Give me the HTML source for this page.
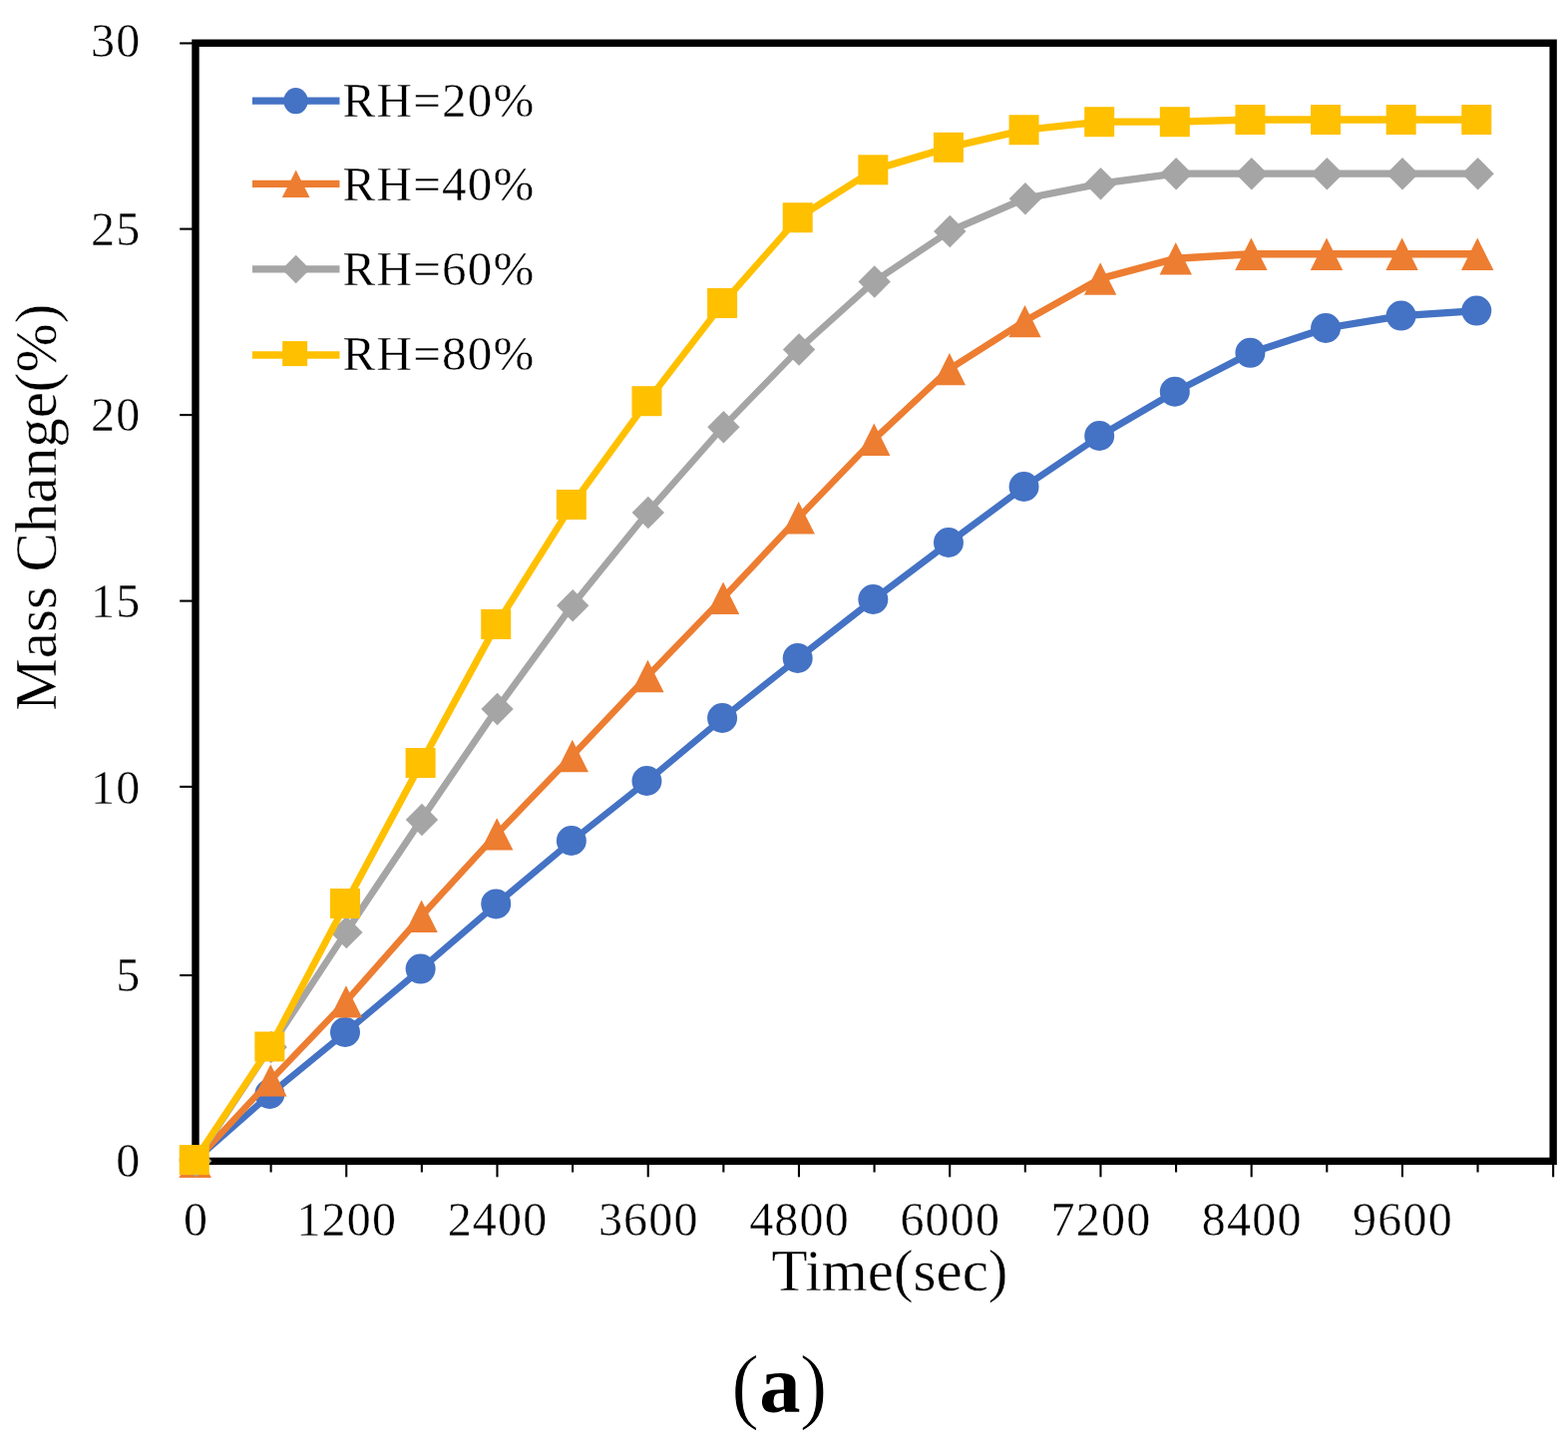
<!DOCTYPE html>
<html lang="en"><head><meta charset="utf-8"><title>Mass Change vs Time</title>
<style>
html,body{margin:0;padding:0;background:#fff;}
body{width:1572px;height:1451px;overflow:hidden;}
svg{display:block;filter:blur(0.5px);}
text{font-family:"Liberation Serif","DejaVu Serif",serif;fill:#000;stroke:#fff;stroke-width:0.4px;}
.tick{font-size:48px;letter-spacing:1.2px;}
.axt{font-size:59px;}
.leg{font-size:49px;letter-spacing:1.25px;}
.cap{font-size:84.5px;stroke-width:1.0px;}
.capa{font-size:82.5px;font-weight:bold;stroke:none;}
</style></head><body>
<svg width="1572" height="1451" viewBox="0 0 1572 1451">
<rect width="1572" height="1451" fill="#fff"/>
<g stroke="#000" stroke-width="2.1">
<line x1="180.2" y1="1164.4" x2="196" y2="1164.4"/>
<line x1="180.2" y1="978" x2="196" y2="978"/>
<line x1="180.2" y1="788.9" x2="196" y2="788.9"/>
<line x1="180.2" y1="602.6" x2="196" y2="602.6"/>
<line x1="180.2" y1="416.1" x2="196" y2="416.1"/>
<line x1="180.2" y1="229.6" x2="196" y2="229.6"/>
<line x1="180.2" y1="43.4" x2="196" y2="43.4"/>
<line x1="196" y1="1164.4" x2="196" y2="1180.3"/>
<line x1="271.62" y1="1164.4" x2="271.62" y2="1175.5"/>
<line x1="347.24" y1="1164.4" x2="347.24" y2="1180.3"/>
<line x1="422.86" y1="1164.4" x2="422.86" y2="1175.5"/>
<line x1="498.48" y1="1164.4" x2="498.48" y2="1180.3"/>
<line x1="574.1" y1="1164.4" x2="574.1" y2="1175.5"/>
<line x1="649.72" y1="1164.4" x2="649.72" y2="1180.3"/>
<line x1="725.34" y1="1164.4" x2="725.34" y2="1175.5"/>
<line x1="800.96" y1="1164.4" x2="800.96" y2="1180.3"/>
<line x1="876.58" y1="1164.4" x2="876.58" y2="1175.5"/>
<line x1="952.19" y1="1164.4" x2="952.19" y2="1180.3"/>
<line x1="1027.81" y1="1164.4" x2="1027.81" y2="1175.5"/>
<line x1="1103.43" y1="1164.4" x2="1103.43" y2="1180.3"/>
<line x1="1179.05" y1="1164.4" x2="1179.05" y2="1175.5"/>
<line x1="1254.67" y1="1164.4" x2="1254.67" y2="1180.3"/>
<line x1="1330.29" y1="1164.4" x2="1330.29" y2="1175.5"/>
<line x1="1405.91" y1="1164.4" x2="1405.91" y2="1180.3"/>
<line x1="1481.53" y1="1164.4" x2="1481.53" y2="1175.5"/>
<line x1="1557.15" y1="1164.4" x2="1557.15" y2="1180.3"/>
</g>
<g class="tick" text-anchor="end">
<text x="141.5" y="1180">0</text>
<text x="141.5" y="993.8">5</text>
<text x="141.5" y="805.7">10</text>
<text x="141.5" y="618.5">15</text>
<text x="141.5" y="431.9">20</text>
<text x="141.5" y="245.5">25</text>
<text x="141.5" y="57.4">30</text>
</g>
<g class="tick" text-anchor="middle">
<text x="196.6" y="1238.5">0</text>
<text x="347.84" y="1238.5">1200</text>
<text x="499.08" y="1238.5">2400</text>
<text x="650.32" y="1238.5">3600</text>
<text x="801.56" y="1238.5">4800</text>
<text x="952.79" y="1238.5">6000</text>
<text x="1104.03" y="1238.5">7200</text>
<text x="1255.27" y="1238.5">8400</text>
<text x="1406.51" y="1238.5">9600</text>
</g>
<rect x="196" y="43.2" width="1361.15" height="1121.2" fill="none" stroke="#000" stroke-width="7.4"/>
<text class="axt" x="892" y="1294" text-anchor="middle">Time(sec)</text>
<text class="axt" transform="translate(56,508.7) rotate(-90)" text-anchor="middle">Mass Change(%)</text>
<text class="cap" x="781.3" y="1416.5" text-anchor="middle">(<tspan class="capa" dy="-0.7">a</tspan><tspan dy="0.7" dx="-1">)</tspan></text>
<g>
<g fill="none" stroke="#4472C4" stroke-linecap="round">
<line x1="195.5" y1="1163.5" x2="271.12" y2="1097" stroke-width="6.57"/>
<line x1="271.12" y1="1097" x2="346.74" y2="1035" stroke-width="6.63"/>
<line x1="346.74" y1="1035" x2="422.36" y2="971.6" stroke-width="6.61"/>
<line x1="422.36" y1="971.6" x2="497.98" y2="906.4" stroke-width="6.58"/>
<line x1="497.98" y1="906.4" x2="573.6" y2="843" stroke-width="6.61"/>
<line x1="573.6" y1="843" x2="649.22" y2="783" stroke-width="6.65"/>
<line x1="649.22" y1="783" x2="724.84" y2="720" stroke-width="6.61"/>
<line x1="724.84" y1="720" x2="800.46" y2="660" stroke-width="6.65"/>
<line x1="800.46" y1="660" x2="876.08" y2="601" stroke-width="6.66"/>
<line x1="876.08" y1="601" x2="951.69" y2="544" stroke-width="6.69"/>
<line x1="951.69" y1="544" x2="1027.31" y2="488" stroke-width="6.71"/>
<line x1="1027.31" y1="488" x2="1102.93" y2="437" stroke-width="6.78"/>
<line x1="1102.93" y1="437" x2="1178.55" y2="392.75" stroke-width="6.87"/>
<line x1="1178.55" y1="392.75" x2="1254.17" y2="353.8" stroke-width="6.95"/>
<line x1="1254.17" y1="353.8" x2="1329.79" y2="329" stroke-width="7.14"/>
<line x1="1329.79" y1="329" x2="1405.41" y2="316.6" stroke-width="7.26"/>
<line x1="1405.41" y1="316.6" x2="1481.03" y2="311.6" stroke-width="7.29"/>
</g>
<circle cx="194.75" cy="1163.5" r="15" fill="#4472C4"/>
<circle cx="270.37" cy="1097" r="15" fill="#4472C4"/>
<circle cx="345.99" cy="1035" r="15" fill="#4472C4"/>
<circle cx="421.61" cy="971.6" r="15" fill="#4472C4"/>
<circle cx="497.23" cy="906.4" r="15" fill="#4472C4"/>
<circle cx="572.85" cy="843" r="15" fill="#4472C4"/>
<circle cx="648.47" cy="783" r="15" fill="#4472C4"/>
<circle cx="724.09" cy="720" r="15" fill="#4472C4"/>
<circle cx="799.71" cy="660" r="15" fill="#4472C4"/>
<circle cx="875.33" cy="601" r="15" fill="#4472C4"/>
<circle cx="950.94" cy="544" r="15" fill="#4472C4"/>
<circle cx="1026.56" cy="488" r="15" fill="#4472C4"/>
<circle cx="1102.18" cy="437" r="15" fill="#4472C4"/>
<circle cx="1177.8" cy="392.75" r="15" fill="#4472C4"/>
<circle cx="1253.42" cy="353.8" r="15" fill="#4472C4"/>
<circle cx="1329.04" cy="329" r="15" fill="#4472C4"/>
<circle cx="1404.66" cy="316.6" r="15" fill="#4472C4"/>
<circle cx="1480.28" cy="311.6" r="15" fill="#4472C4"/>
</g>
<g>
<g fill="none" stroke="#ED7D31" stroke-linecap="round">
<line x1="195.5" y1="1164.7" x2="271.12" y2="1083.4" stroke-width="6.52"/>
<line x1="271.12" y1="1083.4" x2="346.74" y2="1004.4" stroke-width="6.5"/>
<line x1="346.74" y1="1004.4" x2="422.36" y2="918.75" stroke-width="6.56"/>
<line x1="422.36" y1="918.75" x2="497.98" y2="836.4" stroke-width="6.53"/>
<line x1="497.98" y1="836.4" x2="573.6" y2="758" stroke-width="6.49"/>
<line x1="573.6" y1="758" x2="649.22" y2="678" stroke-width="6.51"/>
<line x1="649.22" y1="678" x2="724.84" y2="599.7" stroke-width="6.49"/>
<line x1="724.84" y1="599.7" x2="800.46" y2="519.2" stroke-width="6.51"/>
<line x1="800.46" y1="519.2" x2="876.08" y2="440.75" stroke-width="6.49"/>
<line x1="876.08" y1="440.75" x2="951.69" y2="370.1" stroke-width="6.52"/>
<line x1="951.69" y1="370.1" x2="1027.31" y2="322.1" stroke-width="6.82"/>
<line x1="1027.31" y1="322.1" x2="1102.93" y2="279.5" stroke-width="6.9"/>
<line x1="1102.93" y1="279.5" x2="1178.55" y2="259.25" stroke-width="7.19"/>
<line x1="1178.55" y1="259.25" x2="1254.17" y2="254.75" stroke-width="7.29"/>
<line x1="1254.17" y1="254.75" x2="1329.79" y2="254.75" stroke-width="7.3"/>
<line x1="1329.79" y1="254.75" x2="1405.41" y2="254.75" stroke-width="7.3"/>
<line x1="1405.41" y1="254.75" x2="1481.03" y2="254.75" stroke-width="7.3"/>
</g>
<polygon points="195.7,1148.5 211.9,1180.9 179.5,1180.9" fill="#ED7D31"/>
<polygon points="271.32,1067.2 287.52,1099.6 255.12,1099.6" fill="#ED7D31"/>
<polygon points="346.94,988.2 363.14,1020.6 330.74,1020.6" fill="#ED7D31"/>
<polygon points="422.56,902.55 438.76,934.95 406.36,934.95" fill="#ED7D31"/>
<polygon points="498.18,820.2 514.38,852.6 481.98,852.6" fill="#ED7D31"/>
<polygon points="573.8,741.8 590,774.2 557.6,774.2" fill="#ED7D31"/>
<polygon points="649.42,661.8 665.62,694.2 633.22,694.2" fill="#ED7D31"/>
<polygon points="725.04,583.5 741.24,615.9 708.84,615.9" fill="#ED7D31"/>
<polygon points="800.66,503 816.86,535.4 784.46,535.4" fill="#ED7D31"/>
<polygon points="876.28,424.55 892.48,456.95 860.08,456.95" fill="#ED7D31"/>
<polygon points="951.89,353.9 968.09,386.3 935.69,386.3" fill="#ED7D31"/>
<polygon points="1027.51,305.9 1043.71,338.3 1011.31,338.3" fill="#ED7D31"/>
<polygon points="1103.13,263.3 1119.33,295.7 1086.93,295.7" fill="#ED7D31"/>
<polygon points="1178.75,243.05 1194.95,275.45 1162.55,275.45" fill="#ED7D31"/>
<polygon points="1254.37,238.55 1270.57,270.95 1238.17,270.95" fill="#ED7D31"/>
<polygon points="1329.99,238.55 1346.19,270.95 1313.79,270.95" fill="#ED7D31"/>
<polygon points="1405.61,238.55 1421.81,270.95 1389.41,270.95" fill="#ED7D31"/>
<polygon points="1481.23,238.55 1497.43,270.95 1465.03,270.95" fill="#ED7D31"/>
</g>
<g>
<g fill="none" stroke="#A5A5A5" stroke-linecap="round">
<line x1="195.5" y1="1164.3" x2="271.12" y2="1050" stroke-width="6.79"/>
<line x1="271.12" y1="1050" x2="346.74" y2="935" stroke-width="6.79"/>
<line x1="346.74" y1="935" x2="422.36" y2="822" stroke-width="6.78"/>
<line x1="422.36" y1="822" x2="497.98" y2="711" stroke-width="6.77"/>
<line x1="497.98" y1="711" x2="573.6" y2="607.3" stroke-width="6.72"/>
<line x1="573.6" y1="607.3" x2="649.22" y2="514" stroke-width="6.63"/>
<line x1="649.22" y1="514" x2="724.84" y2="428.2" stroke-width="6.57"/>
<line x1="724.84" y1="428.2" x2="800.46" y2="350.5" stroke-width="6.48"/>
<line x1="800.46" y1="350.5" x2="876.08" y2="282.5" stroke-width="6.55"/>
<line x1="876.08" y1="282.5" x2="951.69" y2="232" stroke-width="6.78"/>
<line x1="951.69" y1="232" x2="1027.31" y2="199.2" stroke-width="7.03"/>
<line x1="1027.31" y1="199.2" x2="1102.93" y2="184.2" stroke-width="7.24"/>
<line x1="1102.93" y1="184.2" x2="1178.55" y2="174.2" stroke-width="7.27"/>
<line x1="1178.55" y1="174.2" x2="1254.17" y2="174.2" stroke-width="7.3"/>
<line x1="1254.17" y1="174.2" x2="1329.79" y2="174.2" stroke-width="7.3"/>
<line x1="1329.79" y1="174.2" x2="1405.41" y2="174.2" stroke-width="7.3"/>
<line x1="1405.41" y1="174.2" x2="1481.03" y2="174.2" stroke-width="7.3"/>
</g>
<polygon points="196.1,1148.1 212.3,1164.3 196.1,1180.5 179.9,1164.3" fill="#A5A5A5"/>
<polygon points="271.72,1033.8 287.92,1050 271.72,1066.2 255.52,1050" fill="#A5A5A5"/>
<polygon points="347.34,918.8 363.54,935 347.34,951.2 331.14,935" fill="#A5A5A5"/>
<polygon points="422.96,805.8 439.16,822 422.96,838.2 406.76,822" fill="#A5A5A5"/>
<polygon points="498.58,694.8 514.78,711 498.58,727.2 482.38,711" fill="#A5A5A5"/>
<polygon points="574.2,591.1 590.4,607.3 574.2,623.5 558,607.3" fill="#A5A5A5"/>
<polygon points="649.82,497.8 666.02,514 649.82,530.2 633.62,514" fill="#A5A5A5"/>
<polygon points="725.44,412 741.64,428.2 725.44,444.4 709.24,428.2" fill="#A5A5A5"/>
<polygon points="801.06,334.3 817.26,350.5 801.06,366.7 784.86,350.5" fill="#A5A5A5"/>
<polygon points="876.68,266.3 892.88,282.5 876.68,298.7 860.48,282.5" fill="#A5A5A5"/>
<polygon points="952.29,215.8 968.49,232 952.29,248.2 936.09,232" fill="#A5A5A5"/>
<polygon points="1027.91,183 1044.11,199.2 1027.91,215.4 1011.71,199.2" fill="#A5A5A5"/>
<polygon points="1103.53,168 1119.73,184.2 1103.53,200.4 1087.33,184.2" fill="#A5A5A5"/>
<polygon points="1179.15,158 1195.35,174.2 1179.15,190.4 1162.95,174.2" fill="#A5A5A5"/>
<polygon points="1254.77,158 1270.97,174.2 1254.77,190.4 1238.57,174.2" fill="#A5A5A5"/>
<polygon points="1330.39,158 1346.59,174.2 1330.39,190.4 1314.19,174.2" fill="#A5A5A5"/>
<polygon points="1406.01,158 1422.21,174.2 1406.01,190.4 1389.81,174.2" fill="#A5A5A5"/>
<polygon points="1481.63,158 1497.83,174.2 1481.63,190.4 1465.43,174.2" fill="#A5A5A5"/>
</g>
<g>
<g fill="none" stroke="#FFC000" stroke-linecap="round">
<line x1="195.5" y1="1163.1" x2="271.12" y2="1049.5" stroke-width="6.78"/>
<line x1="271.12" y1="1049.5" x2="346.74" y2="906" stroke-width="6.94"/>
<line x1="346.74" y1="906" x2="422.36" y2="765" stroke-width="6.92"/>
<line x1="422.36" y1="765" x2="497.98" y2="626" stroke-width="6.92"/>
<line x1="497.98" y1="626" x2="573.6" y2="506" stroke-width="6.82"/>
<line x1="573.6" y1="506" x2="649.22" y2="402.2" stroke-width="6.72"/>
<line x1="649.22" y1="402.2" x2="724.84" y2="304" stroke-width="6.67"/>
<line x1="724.84" y1="304" x2="800.46" y2="218.25" stroke-width="6.57"/>
<line x1="800.46" y1="218.25" x2="876.08" y2="170.3" stroke-width="6.82"/>
<line x1="876.08" y1="170.3" x2="951.69" y2="147.8" stroke-width="7.16"/>
<line x1="951.69" y1="147.8" x2="1027.31" y2="130.25" stroke-width="7.21"/>
<line x1="1027.31" y1="130.25" x2="1102.93" y2="122.2" stroke-width="7.28"/>
<line x1="1102.93" y1="122.2" x2="1178.55" y2="122.2" stroke-width="7.3"/>
<line x1="1178.55" y1="122.2" x2="1254.17" y2="120" stroke-width="7.3"/>
<line x1="1254.17" y1="120" x2="1329.79" y2="120" stroke-width="7.3"/>
<line x1="1329.79" y1="120" x2="1405.41" y2="120" stroke-width="7.3"/>
<line x1="1405.41" y1="120" x2="1481.03" y2="120" stroke-width="7.3"/>
</g>
<rect x="179.75" y="1148.1" width="30" height="30" fill="#FFC000"/>
<rect x="255.37" y="1034.5" width="30" height="30" fill="#FFC000"/>
<rect x="330.99" y="891" width="30" height="30" fill="#FFC000"/>
<rect x="406.61" y="750" width="30" height="30" fill="#FFC000"/>
<rect x="482.23" y="611" width="30" height="30" fill="#FFC000"/>
<rect x="557.85" y="491" width="30" height="30" fill="#FFC000"/>
<rect x="633.47" y="387.2" width="30" height="30" fill="#FFC000"/>
<rect x="709.09" y="289" width="30" height="30" fill="#FFC000"/>
<rect x="784.71" y="203.25" width="30" height="30" fill="#FFC000"/>
<rect x="860.33" y="155.3" width="30" height="30" fill="#FFC000"/>
<rect x="935.94" y="132.8" width="30" height="30" fill="#FFC000"/>
<rect x="1011.56" y="115.25" width="30" height="30" fill="#FFC000"/>
<rect x="1087.18" y="107.2" width="30" height="30" fill="#FFC000"/>
<rect x="1162.8" y="107.2" width="30" height="30" fill="#FFC000"/>
<rect x="1238.42" y="105" width="30" height="30" fill="#FFC000"/>
<rect x="1314.04" y="105" width="30" height="30" fill="#FFC000"/>
<rect x="1389.66" y="105" width="30" height="30" fill="#FFC000"/>
<rect x="1465.28" y="105" width="30" height="30" fill="#FFC000"/>
</g>
<g class="leg">
<line x1="253" y1="101.2" x2="340.5" y2="101.2" stroke="#4472C4" stroke-width="7.3"/>
<ellipse cx="296.5" cy="101.2" rx="12.2" ry="13.1" fill="#4472C4"/>
<text x="343.6" y="117">RH=20%</text>
<line x1="253" y1="184.3" x2="340.5" y2="184.3" stroke="#ED7D31" stroke-width="7.3"/>
<polygon points="296.7,170.4 310.5,198 282.9,198" fill="#ED7D31"/>
<text x="343.6" y="200.7">RH=40%</text>
<line x1="253" y1="269.8" x2="340.5" y2="269.8" stroke="#A5A5A5" stroke-width="7.3"/>
<polygon points="296.7,255.8 310.9,270 296.7,284.2 282.5,270" fill="#A5A5A5"/>
<text x="343.6" y="285.7">RH=60%</text>
<line x1="253" y1="356" x2="340.5" y2="356" stroke="#FFC000" stroke-width="7.3"/>
<rect x="283.15" y="342.1" width="25.0" height="25.0" fill="#FFC000"/>
<text x="343.6" y="371.25">RH=80%</text>
</g>
</svg>
</body></html>
